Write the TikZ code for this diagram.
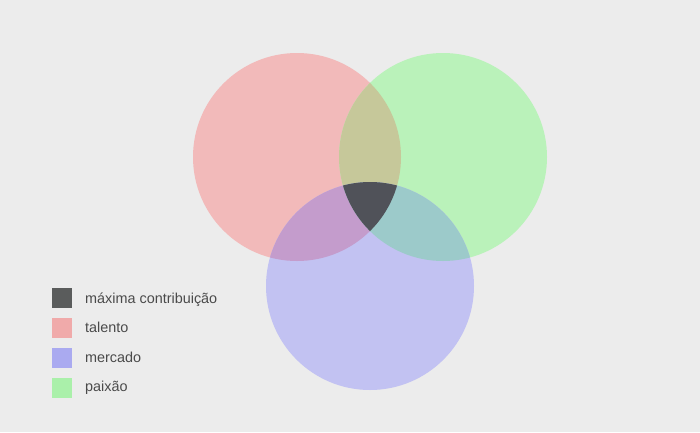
\documentclass[tikz,border=0pt]{standalone}
\usepackage{fontspec}
\setmainfont{Liberation Sans}
\definecolor{bg}{HTML}{ECECEC}
\definecolor{cred}{HTML}{F2BABA}
\definecolor{cgreen}{HTML}{BAF2BA}
\definecolor{cblue}{HTML}{C2C2F2}
\definecolor{crg}{HTML}{C6C89A}
\definecolor{crb}{HTML}{C49CCC}
\definecolor{cgb}{HTML}{9CCACA}
\definecolor{call}{HTML}{505259}
\definecolor{lred}{HTML}{F0AAAA}
\definecolor{lblue}{HTML}{AAAAF0}
\definecolor{lgreen}{HTML}{AAF0AA}
\definecolor{ldark}{HTML}{5A5C5C}
\definecolor{txt}{HTML}{4A4A4A}
\begin{document}
\begin{tikzpicture}[x=1pt,y=-1pt,
  legbox/.style={minimum size=20pt,inner sep=0pt,anchor=north west},
  legtext/.style={anchor=base west,text=txt,font=\fontsize{14.4}{17}\selectfont,inner sep=0pt}]
\fill[bg] (0,0) rectangle (700,432);
\useasboundingbox (0,0) rectangle (700,432);
\def\R{104}
\coordinate (cr) at (297,157);
\coordinate (cg) at (443,157);
\coordinate (cb) at (370,286);
\fill[cred] (cr) circle (\R);
\fill[cgreen] (cg) circle (\R);
\fill[cblue] (cb) circle (\R);
\begin{scope}\clip (cr) circle (\R); \fill[crg] (cg) circle (\R); \end{scope}
\begin{scope}\clip (cr) circle (\R); \fill[crb] (cb) circle (\R); \end{scope}
\begin{scope}\clip (cg) circle (\R); \fill[cgb] (cb) circle (\R); \end{scope}
\begin{scope}\clip (cr) circle (\R); \clip (cg) circle (\R); \fill[call] (cb) circle (\R); \end{scope}
% legend
\node[legbox,fill=ldark] (b1) at (52,288) {};
\node[legbox,fill=lred] (b2) at (52,318) {};
\node[legbox,fill=lblue] (b3) at (52,348) {};
\node[legbox,fill=lgreen] (b4) at (52,378) {};
\node[legtext] (t1) at (85,303.3) {máxima contribuição};
\node[legtext] (t2) at (85,332.6) {talento};
\node[legtext] (t3) at (85,362) {mercado};
\node[legtext] (t4) at (85,391) {paixão};
\end{tikzpicture}
\end{document}
